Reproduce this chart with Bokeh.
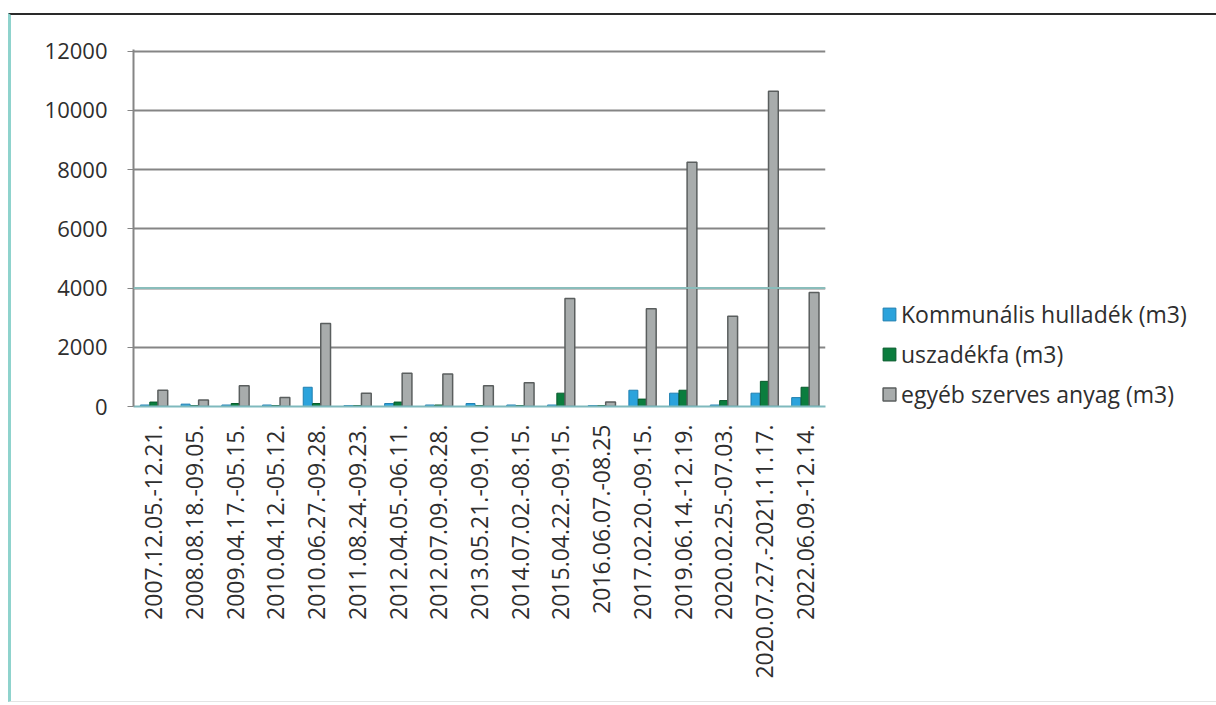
import math
from bokeh.plotting import figure
from bokeh.models import ColumnDataSource, Range1d, Legend, LegendItem, Span
from bokeh.transform import dodge
from bokeh.embed import file_html
from bokeh.resources import INLINE

periods = [
    "2007.12.05.-12.21.", "2008.08.18.-09.05.", "2009.04.17.-05.15.",
    "2010.04.12.-05.12.", "2010.06.27.-09.28.", "2011.08.24.-09.23.",
    "2012.04.05.-06.11.", "2012.07.09.-08.28.", "2013.05.21.-09.10.",
    "2014.07.02.-08.15.", "2015.04.22.-09.15.", "2016.06.07.-08.25",
    "2017.02.20.-09.15.", "2019.06.14.-12.19.", "2020.02.25.-07.03.",
    "2020.07.27.-2021.11.17.", "2022.06.09.-12.14.",
]
kommunalis = [50, 80, 50, 50, 650, 30, 100, 50, 100, 50, 50, 30, 550, 450, 50, 450, 300]
uszadekfa = [150, 30, 100, 30, 100, 30, 150, 50, 30, 30, 450, 30, 250, 550, 200, 850, 650]
egyeb = [550, 220, 700, 300, 2800, 450, 1120, 1100, 700, 800, 3650, 150, 3300, 8250, 3050, 10650, 3850]
y_ticks = [0, 2000, 4000, 6000, 8000, 10000, 12000]

series_names = ["Kommunális hulladék (m3)", "uszadékfa (m3)", "egyéb szerves anyag (m3)"]

src = ColumnDataSource(dict(p=periods, k=kommunalis, u=uszadekfa, e=egyeb))

FONT = "Open Sans"

p = figure(
    x_range=periods, y_range=Range1d(0, 12060),
    frame_width=692, frame_height=357,
    output_backend="svg", toolbar_location=None,
    min_border_left=122, min_border_top=34, min_border_right=20, min_border_bottom=295,
)
p.margin = (13, 0, 0, 8)
p.styles = {"border-top": "2px solid #2a2a2a", "border-left": "3px solid #8fd3cd",
            "border-bottom": "1px solid #e4e4e4"}
p.outline_line_color = None
p.background_fill_color = "white"

p.xgrid.grid_line_color = None
p.ygrid.grid_line_color = "#858585"
p.ygrid.grid_line_width = 2
p.add_layout(Span(location=y_ticks[2], dimension="width", line_color="#8abdbb", line_width=2))

rk = p.vbar(x=dodge("p", -0.22, range=p.x_range), top="k", width=0.22, source=src,
            fill_color="#2ba3dc", line_color="#1f7fb0", line_width=1)
ru = p.vbar(x=dodge("p", 0.0, range=p.x_range), top="u", width=0.2, source=src,
            fill_color="#0b7d3e", line_color="#075a2c", line_width=1)
re = p.vbar(x=dodge("p", 0.22, range=p.x_range), top="e", width=0.24, source=src,
            fill_color="#a8acac", line_color="#5a5e5e", line_width=1.5)

p.yaxis.ticker = y_ticks
p.yaxis.axis_line_color = "#858585"
p.yaxis.axis_line_width = 2
p.yaxis.major_tick_line_color = "#858585"
p.yaxis.major_tick_out = 6
p.yaxis.major_tick_in = 0
p.yaxis.minor_tick_line_color = None
p.yaxis.major_label_standoff = 20
p.yaxis.major_label_text_font = FONT
p.yaxis.major_label_text_font_size = "22px"
p.yaxis.major_label_text_color = "#2e2e2e"

p.xaxis.axis_line_color = "#7fb9bd"
p.xaxis.axis_line_width = 2
p.xaxis.major_tick_line_color = None
p.xaxis.minor_tick_line_color = None
p.xaxis.major_label_orientation = math.pi / 2
p.xaxis.major_label_standoff = 12
p.xaxis.major_label_text_font = FONT
p.xaxis.major_label_text_font_size = "23px"
p.xaxis.major_label_text_color = "#2e2e2e"

legend = Legend(items=[
    LegendItem(label=series_names[0], renderers=[rk]),
    LegendItem(label=series_names[1], renderers=[ru]),
    LegendItem(label=series_names[2], renderers=[re]),
], location=(56, -4))
legend.border_line_color = None
legend.background_fill_alpha = 0
legend.margin = 0
legend.padding = 0
legend.spacing = 8
legend.glyph_width = 16
legend.glyph_height = 16
legend.label_height = 22
legend.label_standoff = 4
legend.label_text_font = FONT
legend.label_text_font_size = "23px"
legend.label_text_color = "#2e2e2e"
p.add_layout(legend, "right")

open("out.html", "w").write(file_html(p, INLINE))
